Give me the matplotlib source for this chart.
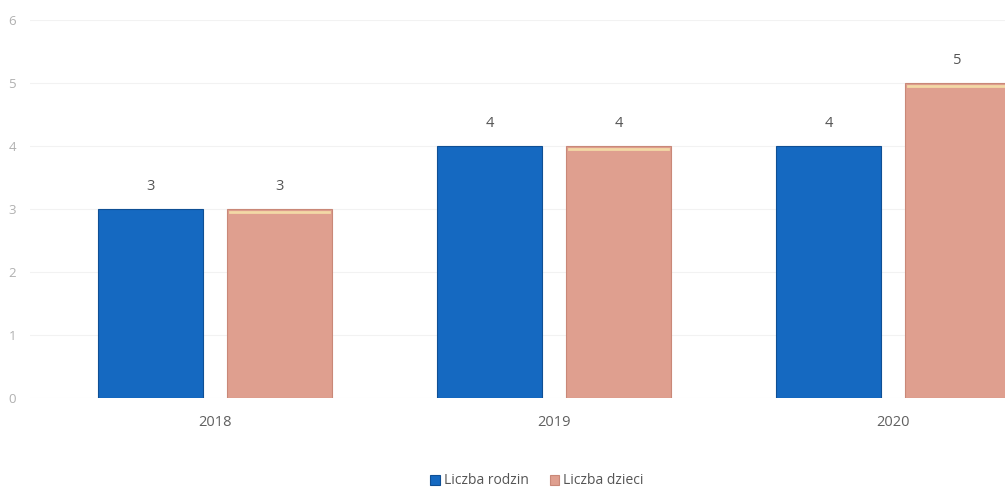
import matplotlib
matplotlib.use("Agg")
import matplotlib.pyplot as plt
import numpy as np

years = ["2018", "2019", "2020"]
families = [3, 4, 4]   # Liczba rodzin
children = [3, 4, 5]   # Liczba dzieci
y_ticks = [0, 1, 2, 3, 4, 5, 6]

blue = "#1569c1"
pink = "#df9f8f"

plt.rcParams['font.family'] = ['Open Sans', 'DejaVu Sans']

fig = plt.figure(figsize=(10.05, 4.95), dpi=100)
# axes placed so the last bar runs off the right edge, like the scan
ax = fig.add_axes([30 / 1005, 97 / 495, 975 / 1005, 378 / 495])

x = np.arange(len(years))
w = 0.31
off = 0.19

b1 = ax.bar(x - off, families, w, color=blue, edgecolor="#0f4f94", linewidth=0.8,
            label="Liczba rodzin", zorder=3)
b2 = ax.bar(x + off, children, w, color=pink, edgecolor="#c98878", linewidth=0.8,
            label="Liczba dzieci", zorder=3)

# thin light strip on top of the pink bars
for rect in b2:
    ax.plot([rect.get_x() + 0.01, rect.get_x() + rect.get_width() - 0.01],
            [rect.get_height() - 0.04] * 2, color="#f3d9a6", lw=2, zorder=4)

for rects, vals in [(b1, families), (b2, children)]:
    for rect, v in zip(rects, vals):
        ax.text(rect.get_x() + rect.get_width() / 2, v + 0.35, str(v),
                ha="center", va="center", fontsize=10.5, color="#555555")

ax.set_xlim(-0.546, 2.33)
ax.set_ylim(0, 6)
ax.set_yticks(y_ticks)
ax.set_xticks(x)
ax.set_xticklabels(years)
ax.tick_params(axis="y", length=0, pad=10, labelsize=9.5, labelcolor="#b0b0b0")
ax.tick_params(axis="x", length=0, pad=12, labelsize=10.5, labelcolor="#606060")
for s in ax.spines.values():
    s.set_visible(False)
ax.grid(axis="y", color="#f2f2f2", lw=0.8, zorder=0)

fig.legend(handles=[b1, b2], loc="center", bbox_to_anchor=(537 / 1005, 1 - 481 / 495),
           ncol=2, frameon=False, fontsize=10, handlelength=0.7, handleheight=0.7,
           handletextpad=0.3, columnspacing=1.5, labelcolor="#555555")

fig.savefig("out.png", dpi=100)
